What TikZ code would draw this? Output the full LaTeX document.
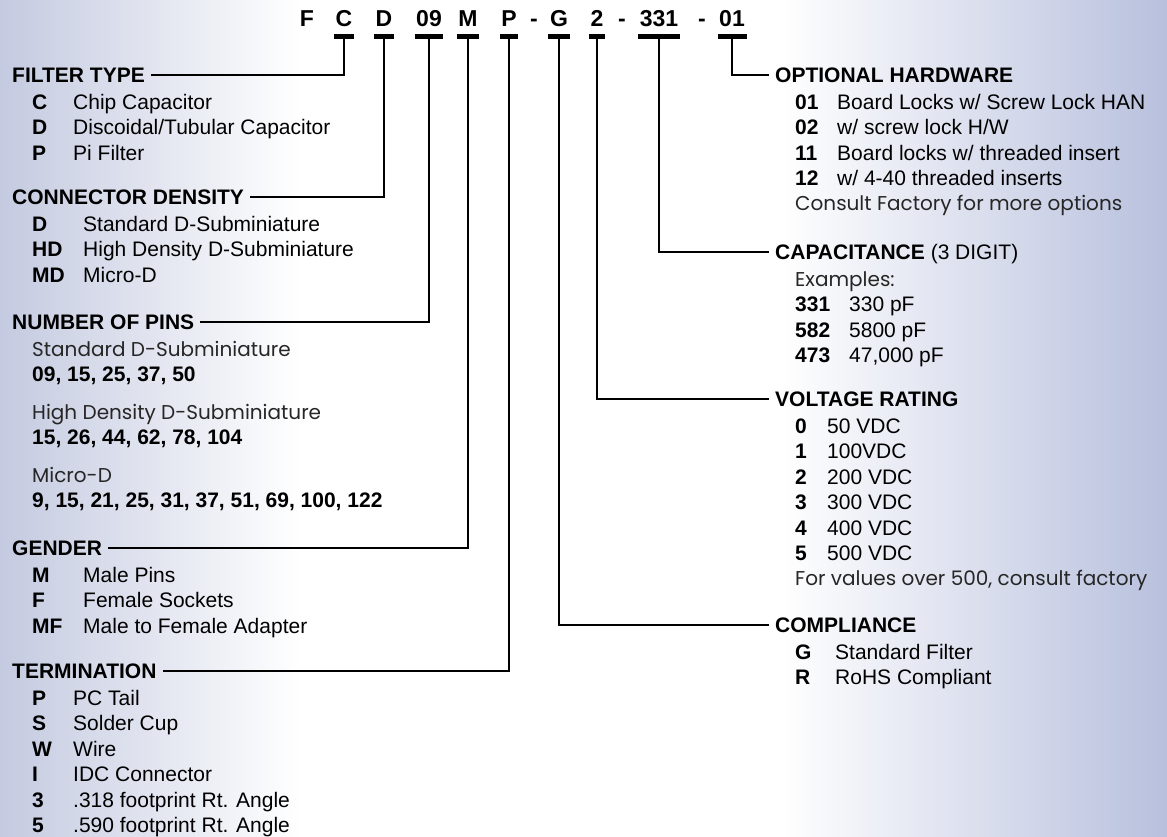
\documentclass[tikz,border=0pt]{standalone}
\usepackage{fontspec}
\setmainfont{Liberation Sans}
\newfontfamily\gothic{Poppins}
\usetikzlibrary{positioning}
\definecolor{edgeL}{RGB}{196,202,224}
\definecolor{edgeR}{RGB}{184,192,221}
\newcommand\cd[2]{\makebox[#1][l]{\bfseries #2}}

\begin{document}
\begin{tikzpicture}[
    x=1pt, y=-1pt,
    every node/.style={inner sep=0pt},
    part/.style={anchor=base, inner xsep=1.5pt, inner ysep=0pt, text depth=9pt,
      font=\fontsize{23}{26}\selectfont\bfseries},
    head/.style={anchor=west, inner xsep=6pt, inner ysep=0pt, text height=15pt,
      text depth=0pt, font=\fontsize{21}{25}\selectfont\bfseries},
    row/.style={anchor=north west, inner sep=0pt, text height=17pt, text depth=8pt,
      font=\fontsize{21}{25}\selectfont},
    firstrow/.style={below=9.5pt of #1.south west, row, xshift=26pt},
    nextrow/.style={below=0pt of #1.south west, row},
    gaprow/.style={below=12pt of #1.south west, row},
    gothicrow/.style={font=\fontsize{20}{25}\selectfont\gothic, text=black!85},
    boldrow/.style={font=\fontsize{21}{25}\selectfont\bfseries},
    lead/.style={line width=2.4pt},
    bar/.style={line width=5pt}
  ]
    % background
    \useasboundingbox (0,0) rectangle (1167,837);
    \fill[left color=edgeL, right color=white] (0,0) rectangle (300,837);
    \fill[white] (300,0) rectangle (780,837);
    \fill[left color=white, right color=edgeR] (780,0) rectangle (1167,837);

    % Part number
    \node[part] (pF) at (307,27) {F};
    \node[part] (pC) at (344,27) {C};
    \node[part] (pD) at (384,27) {D};
    \node[part] (p09) at (429,27) {09};
    \node[part] (pM) at (468,27) {M};
    \node[part] (pP) at (509,27) {P};
    \node[part] (d1) at (534,27) {-};
    \node[part] (pG) at (559,27) {G};
    \node[part] (p2) at (597,27) {2};
    \node[part] (d2) at (622,27) {-};
    \node[part] (p331) at (659,27) {331};
    \node[part] (d3) at (702,27) {-};
    \node[part] (p01) at (732,27) {01};
    \foreach \p in {pC,pD,p09,pM,pP,pG,p2,p331,p01}
      \draw[bar] (\p.south west) -- (\p.south east);

    % Left column
    \node[head] (hFilter) at (6,75) {FILTER TYPE};
    \node[firstrow=hFilter] (fC) {\cd{41pt}{C}Chip Capacitor};
    \node[nextrow=fC] (fD) {\cd{41pt}{D}Discoidal/Tubular Capacitor};
    \node[nextrow=fD] (fP) {\cd{41pt}{P}Pi Filter};

    \node[head] (hDens) at (6,197) {CONNECTOR DENSITY};
    \node[firstrow=hDens] (cD) {\cd{51pt}{D}Standard D-Subminiature};
    \node[nextrow=cD] (cHD) {\cd{51pt}{HD}High Density D-Subminiature};
    \node[nextrow=cHD] (cMD) {\cd{51pt}{MD}Micro-D};

    \node[head] (hPins) at (6,322) {NUMBER OF PINS};
    \node[firstrow=hPins, gothicrow] (nStd) {Standard D-Subminiature};
    \node[nextrow=nStd, boldrow] (nStdV) {09, 15, 25, 37, 50};
    \node[gaprow=nStdV, gothicrow] (nHd) {High Density D-Subminiature};
    \node[nextrow=nHd, boldrow] (nHdV) {15, 26, 44, 62, 78, 104};
    \node[gaprow=nHdV, gothicrow] (nMd) {Micro-D};
    \node[nextrow=nMd, boldrow] (nMdV) {9, 15, 21, 25, 31, 37, 51, 69, 100, 122};

    \node[head] (hGend) at (6,548) {GENDER};
    \node[firstrow=hGend] (gM) {\cd{51pt}{M}Male Pins};
    \node[nextrow=gM] (gF) {\cd{51pt}{F}Female Sockets};
    \node[nextrow=gF] (gMF) {\cd{51pt}{MF}Male to Female Adapter};

    \node[head] (hTerm) at (6,671) {TERMINATION};
    \node[firstrow=hTerm] (tP) {\cd{41pt}{P}PC Tail};
    \node[nextrow=tP] (tS) {\cd{41pt}{S}Solder Cup};
    \node[nextrow=tS] (tW) {\cd{41pt}{W}Wire};
    \node[nextrow=tW] (tI) {\cd{41pt}{I}IDC Connector};
    \node[nextrow=tI] (t3) {\cd{41pt}{3}.318 footprint Rt. Angle};
    \node[nextrow=t3] (t5) {\cd{41pt}{5}.590 footprint Rt. Angle};

    % Right column
    \node[head] (hOpt) at (769,75) {OPTIONAL HARDWARE};
    \node[firstrow=hOpt] (o01) {\cd{42pt}{01}Board Locks w/ Screw Lock HAN};
    \node[nextrow=o01] (o02) {\cd{42pt}{02}w/ screw lock H/W};
    \node[nextrow=o02] (o11) {\cd{42pt}{11}Board locks w/ threaded insert};
    \node[nextrow=o11] (o12) {\cd{42pt}{12}w/ 4-40 threaded inserts};
    \node[nextrow=o12, gothicrow] (oMore) {Consult Factory for more options};

    \node[head] (hCap) at (769,252) {CAPACITANCE \textmd{(3 DIGIT)}};
    \node[firstrow=hCap, gothicrow] (kEx) {Examples:};
    \node[nextrow=kEx] (k331) {\cd{54pt}{331}330 pF};
    \node[nextrow=k331] (k582) {\cd{54pt}{582}5800 pF};
    \node[nextrow=k582] (k473) {\cd{54pt}{473}47,000 pF};

    \node[head] (hVolt) at (769,399) {VOLTAGE RATING};
    \node[firstrow=hVolt] (v0) {\cd{32pt}{0}50 VDC};
    \node[nextrow=v0] (v1) {\cd{32pt}{1}100VDC};
    \node[nextrow=v1] (v2) {\cd{32pt}{2}200 VDC};
    \node[nextrow=v2] (v3) {\cd{32pt}{3}300 VDC};
    \node[nextrow=v3] (v4) {\cd{32pt}{4}400 VDC};
    \node[nextrow=v4] (v5) {\cd{32pt}{5}500 VDC};
    \node[nextrow=v5, gothicrow] (vMore) {For values over 500, consult factory};

    \node[head] (hComp) at (769,625) {COMPLIANCE};
    \node[firstrow=hComp] (mG) {\cd{40pt}{G}Standard Filter};
    \node[nextrow=mG] (mR) {\cd{40pt}{R}RoHS Compliant};

    % Leads
    \draw[lead] (pC.south) |- (hFilter.east);
    \draw[lead] (pD.south) |- (hDens.east);
    \draw[lead] (p09.south) |- (hPins.east);
    \draw[lead] (pM.south) |- (hGend.east);
    \draw[lead] (pP.south) |- (hTerm.east);
    \draw[lead] (p01.south) |- (hOpt.west);
    \draw[lead] (p331.south) |- (hCap.west);
    \draw[lead] (p2.south) |- (hVolt.west);
    \draw[lead] (pG.south) |- (hComp.west);
\end{tikzpicture}
\end{document}
